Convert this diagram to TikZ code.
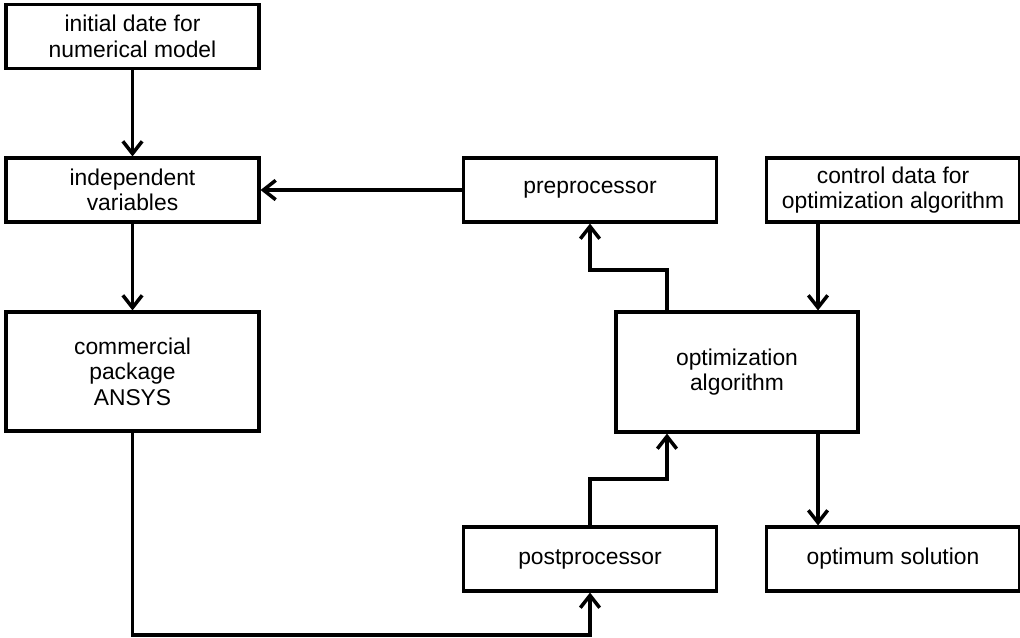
\documentclass[tikz,border=0pt]{standalone}
\usepackage{fontspec}
\setmainfont{Liberation Sans}
\usepackage{tikz}
\usetikzlibrary{arrows.meta,positioning,calc}

\begin{document}
\begin{tikzpicture}[
  x=0.02cm, y=-0.02cm,
  block/.style={rectangle, draw, line width=1.8pt, align=center, inner sep=2pt,
    font=\fontsize{13}{14.5}\selectfont, minimum width=5.06cm, minimum height=1.28cm},
  flow/.style={draw, line width=2pt, -{Straight Barb[length=7pt,width=11pt,line width=2pt]}}
]
  \useasboundingbox (0,0) rectangle (1020,637);

  \node[block] (init)  at (132.5,36.5) {initial date for\\numerical model};
  \node[block] (indep) at (132.5,190)  {independent\\variables};
  \node[block, minimum height=2.38cm] (ansys) at (132.5,371.5) {commercial\\package\\ANSYS};
  \node[block] (pre)   at (590,190)    {preprocessor};
  \node[block] (ctrl)  at (893,190)    {control data for\\optimization algorithm};
  \node[block, minimum width=4.84cm, minimum height=2.4cm] (opt) at (737,372) {optimization\\algorithm};
  \node[block] (post)  at (590,559)    {postprocessor};
  \node[block] (optsol) at (893,559)   {optimum solution};

  % helper points for the bends
  \coordinate (bottom) at (590,635);
  \coordinate (upkink) at (667,479);
  \coordinate (topkink) at (667,270);
  \coordinate (rightx) at (818,0);

  \draw[flow] (init) -- (indep);
  \draw[flow] (pre) -- (indep);
  \draw[flow] (indep) -- (ansys);
  \draw[flow] (ansys.south) |- (bottom) -- (post.south);
  \draw[flow] (post.north) |- (upkink) -- (upkink |- opt.south);
  \draw[flow] (topkink |- opt.north) -- (topkink) -| (pre.south);
  \draw[flow] (rightx |- ctrl.south) -- (rightx |- opt.north);
  \draw[flow] (rightx |- opt.south) -- (rightx |- optsol.north);
\end{tikzpicture}
\end{document}
